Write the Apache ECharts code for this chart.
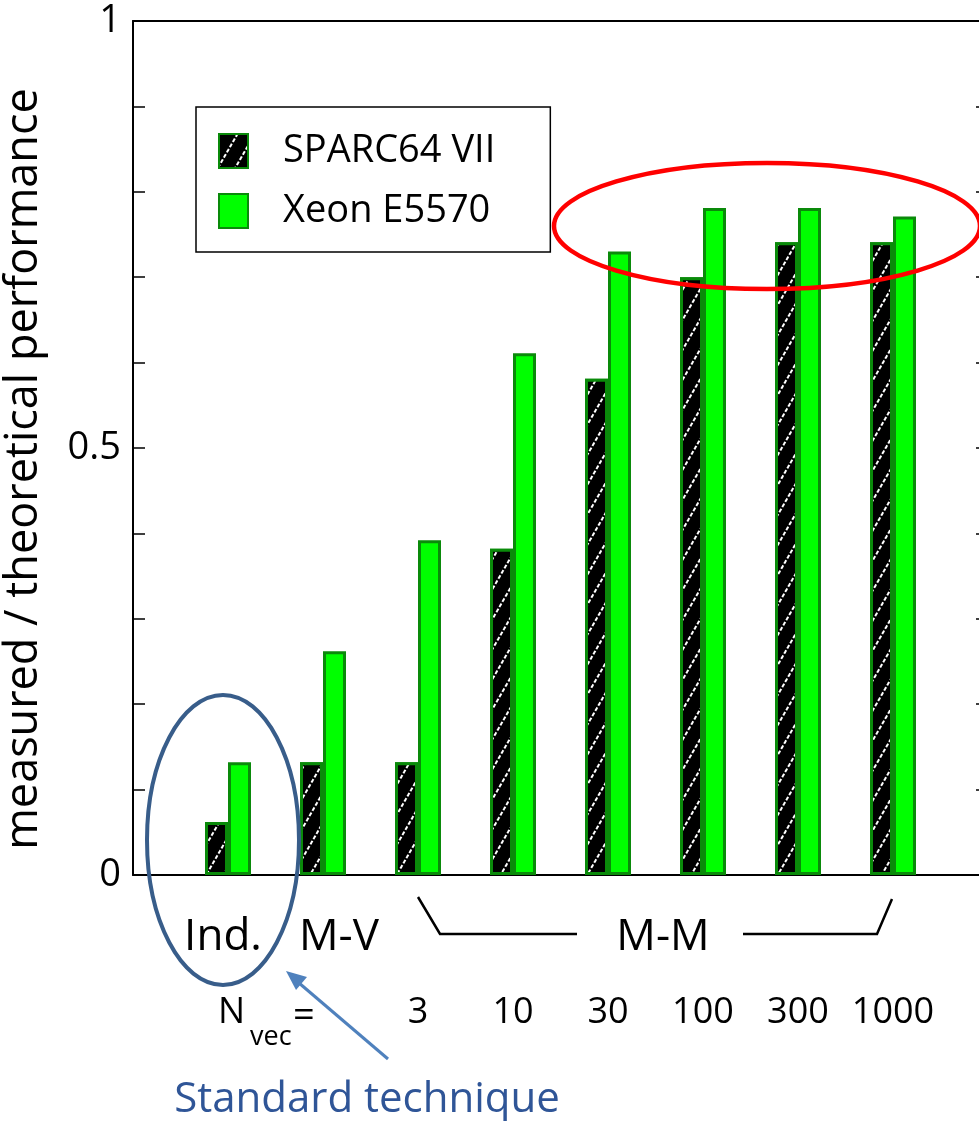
<!DOCTYPE html>
<html>
<head>
<meta charset="utf-8">
<script src="https://cdn.jsdelivr.net/npm/echarts@6/dist/echarts.min.js"></script>
<style>
html,body{margin:0;padding:0;background:#fff;}
#chart{width:979px;height:1121px;}
</style>
</head>
<body>
<div id="chart"></div>
<script>
// ---- data ----
var categories = ['Ind.', 'M-V', '3', '10', '30', '100', '300', '1000'];
var groupLabels = ['Ind.', 'M-V'];
var nvecLabels = ['3', '10', '30', '100', '300', '1000'];
var sparcValues = [0.062, 0.132, 0.132, 0.382, 0.581, 0.700, 0.741, 0.741];
var xeonValues = [0.132, 0.262, 0.392, 0.611, 0.730, 0.781, 0.781, 0.771];
var seriesNames = ['SPARC64 VII', 'Xeon E5570'];
var yTickLabels = ['0', '0.5', '1'];

// padded axis (one empty slot each side)
var axisData = [''].concat(categories).concat(['']);
function pad(arr) { return ['-'].concat(arr).concat(['-']); }

var FONT = 'Open Sans';
var chart = echarts.init(document.getElementById('chart'), null, {renderer: 'canvas'});

var option = {
  animation: false,
  backgroundColor: '#ffffff',
  grid: {left: 133, top: 21, width: 855, height: 854, containLabel: false, outerBoundsMode: 'none'},
  legend: {
    orient: 'vertical',
    left: 196, top: 107,
    padding: [25, 55, 22, 22],
    itemWidth: 29, itemHeight: 34, itemGap: 22,
    icon: 'rect',
    borderColor: '#000', borderWidth: 1.5,
    backgroundColor: '#fff',
    textStyle: {fontFamily: FONT, fontSize: 38, color: '#000', padding: [0, 0, 0, 30]},
    data: seriesNames
  },
  xAxis: [
    {
      type: 'category', position: 'bottom', data: axisData, boundaryGap: false,
      axisLine: {lineStyle: {color: '#000', width: 2}},
      axisTick: {show: false},
      axisLabel: {
        interval: 0, margin: 40, fontFamily: FONT, fontSize: 44, color: '#000',
        formatter: function (v) {
          if (v === groupLabels[0]) return '{i|' + v + '}';
          if (v === groupLabels[1]) return '{m|' + v + '}';
          return '';
        },
        rich: {
          i: {fontFamily: FONT, fontSize: 44, color: '#000', padding: [0, 10, 0, 0]},
          m: {fontFamily: FONT, fontSize: 44, color: '#000', padding: [0, 0, 0, 32]}
        }
      },
      splitLine: {show: false}
    },
    {
      type: 'category', position: 'bottom', data: axisData, boundaryGap: false,
      axisLine: {show: false}, axisTick: {show: false},
      axisLabel: {
        interval: 0, margin: 120, fontFamily: FONT, fontSize: 36, color: '#000',
        formatter: function (v) { return nvecLabels.indexOf(v) >= 0 ? v : ''; }
      },
      splitLine: {show: false}
    },
    {
      type: 'category', position: 'top', data: axisData, boundaryGap: false,
      axisLine: {lineStyle: {color: '#000', width: 2}},
      axisTick: {show: false}, axisLabel: {show: false}, splitLine: {show: false}
    }
  ],
  yAxis: [
    {
      type: 'value', position: 'left', min: 0, max: 1, interval: 0.1,
      name: 'measured / theoretical performance', nameLocation: 'middle', nameGap: 86,
      nameTextStyle: {fontFamily: FONT, fontSize: 45, color: '#000', padding: [0, 42, 0, 0]},
      axisLine: {show: true, lineStyle: {color: '#000', width: 2}},
      axisTick: {show: true, inside: true, length: 12, lineStyle: {color: '#000', width: 1.5}},
      axisLabel: {
        margin: 12, fontFamily: FONT, fontSize: 38, color: '#000',
        formatter: function (v) {
          var s = String(Math.round(v * 10) / 10);
          return yTickLabels.indexOf(s) >= 0 ? s : '';
        }
      },
      splitLine: {show: false}
    },
    {
      type: 'value', position: 'right', min: 0, max: 1, interval: 0.1,
      axisLine: {show: true, lineStyle: {color: '#000', width: 2}},
      axisTick: {show: true, inside: true, length: 12, lineStyle: {color: '#000', width: 1.5}},
      axisLabel: {show: false}, splitLine: {show: false}
    }
  ],
  series: [
    {
      name: seriesNames[0], type: 'bar', xAxisIndex: 0, yAxisIndex: 0,
      data: pad(sparcValues), barWidth: 23, barGap: '0%',
      itemStyle: {
        color: '#000', borderColor: '#0a8a0a', borderWidth: 3,
        decal: {
          symbol: 'rect', symbolSize: 1, color: '#ffffff', backgroundColor: '#000',
          dashArrayX: [[4, 2]], dashArrayY: [1.5, 13], rotation: -Math.PI / 3
        }
      }
    },
    {
      name: seriesNames[1], type: 'bar', xAxisIndex: 0, yAxisIndex: 0,
      data: pad(xeonValues), barWidth: 23, barGap: '0%',
      itemStyle: {color: '#00ff00', borderColor: '#0a8a0a', borderWidth: 3}
    }
  ],
  graphic: [
    // Blue ellipse around Ind.
    {type: 'ellipse', z: 100, shape: {cx: 223, cy: 840, rx: 76, ry: 145},
     style: {fill: null, stroke: '#385d8a', lineWidth: 4}},
    // Red ellipse around top bars
    {type: 'ellipse', z: 100, shape: {cx: 767, cy: 226, rx: 213, ry: 63},
     style: {fill: null, stroke: '#ff0000', lineWidth: 4.5}},
    // M-M bracket
    {type: 'polyline', z: 100, shape: {points: [[418, 897], [440, 934], [577, 934]]},
     style: {fill: null, stroke: '#000', lineWidth: 2.5}},
    {type: 'polyline', z: 100, shape: {points: [[743, 934], [877, 934], [892, 899]]},
     style: {fill: null, stroke: '#000', lineWidth: 2.5}},
    {type: 'text', z: 100, style: {x: 663, y: 937, text: 'M-M', font: '44px "Open Sans"', fill: '#000', align: 'center', verticalAlign: 'middle'}},
    // N_vec =
    {type: 'text', z: 100, style: {x: 218, y: 1013, text: 'N', font: '36px "Open Sans"', fill: '#000', align: 'left', verticalAlign: 'middle'}},
    {type: 'text', z: 100, style: {x: 250, y: 1037, text: 'vec', font: '27px "Open Sans"', fill: '#000', align: 'left', verticalAlign: 'middle'}},
    {type: 'text', z: 100, style: {x: 293, y: 1016, text: '=', font: '38px "Open Sans"', fill: '#000', align: 'left', verticalAlign: 'middle'}},
    // Arrow
    {type: 'line', z: 100, shape: {x1: 388, y1: 1059, x2: 292, y2: 977},
     style: {stroke: '#4f81bd', lineWidth: 3}},
    {type: 'polygon', z: 100, shape: {points: [[286, 971], [307, 977], [296, 990]]},
     style: {fill: '#4f81bd'}},
    // Standard technique
    {type: 'text', z: 100, style: {x: 367, y: 1100, text: 'Standard technique', font: '42px "Open Sans"', fill: '#2f5597', align: 'center', verticalAlign: 'middle'}}
  ]
};
chart.setOption(option);
</script>
</body>
</html>
